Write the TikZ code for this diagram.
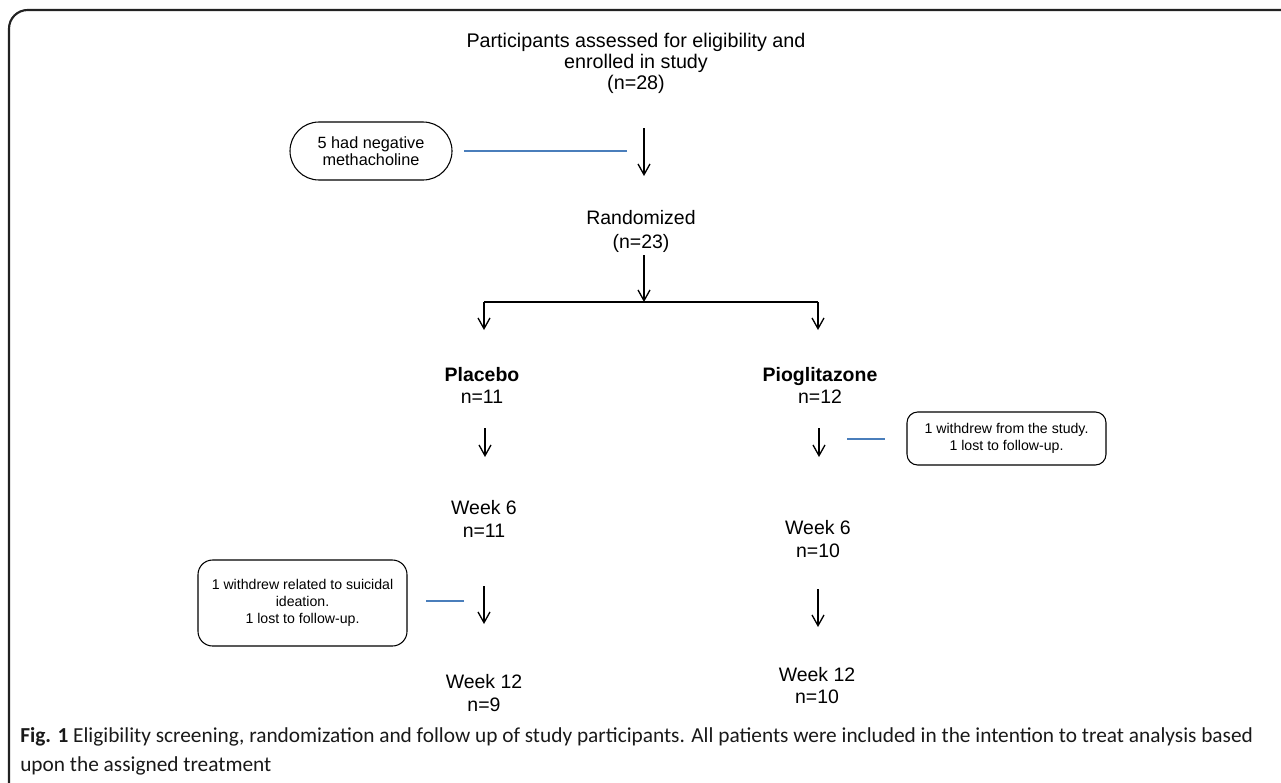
\documentclass[tikz,border=0pt]{standalone}
\usepackage{fontspec}
\setmainfont{Liberation Sans}
\newfontfamily\capfont{Carlito}
\usetikzlibrary{arrows.meta}
\definecolor{linkblue}{HTML}{4A7EBB}
\definecolor{framegray}{HTML}{222222}
\begin{document}
\begin{tikzpicture}[x=0.75pt,y=-0.75pt,
  txt/.style={align=center, inner sep=0pt, font=\fontsize{14.6}{16.9}\selectfont},
  boxtxt/.style={align=center, font=\fontsize{10.6}{12.8}\selectfont, draw=black, line width=0.8pt},
  arr/.style={-{Straight Barb[length=8pt,width=9pt]}, line width=1pt, black},
  link/.style={linkblue, line width=1.1pt},
  ln/.style={line width=1pt, black}]
\useasboundingbox (0,0) rectangle (1281,782);
% frame
\draw[framegray, line width=1.6pt, rounded corners=14pt] (9,800) -- (9,10) -- (1300,10);
% title
\node[txt, font=\fontsize{14.8}{15.75}\selectfont] (t) at (636,63) {Participants assessed for eligibility and\\enrolled in study\\(n=28)};
% negative methacholine
\node[boxtxt, font=\fontsize{12.2}{12.9}\selectfont, rounded corners=29*0.75pt, minimum width=162*0.75pt, minimum height=58*0.75pt, inner sep=0pt] (b1) at (371,151) {5 had negative\\methacholine};
\coordinate (a1s) at (644,128);
\coordinate (a1e) at (644,176);
\coordinate (l1e) at (627,151);
\draw[arr] (a1s) -- (a1e);
\draw[link, shorten >=11*0.75pt] (l1e) -- (l1e -| b1.east);
% randomized
\node[txt, font=\fontsize{14.6}{18}\selectfont] (r) at (641,231) {Randomized\\(n=23)};
\coordinate (a2s) at (644,255);
\coordinate (a2e) at (644,302);
\draw[arr] (a2s) -- (a2e);
\coordinate (bl) at (484,302);
\coordinate (br) at (818,302);
\coordinate (ble) at (484,330);
\coordinate (bre) at (818,330);
\draw[ln] (bl) -- (br);
\draw[arr] (bl) -- (ble);
\draw[arr] (br) -- (bre);
% arms
\node[txt] (p) at (482,385.5) {\textbf{Placebo}\\n=11};
\node[txt] (g) at (820,385.5) {\textbf{Pioglitazone}\\n=12};
\coordinate (a3s) at (485,428);
\coordinate (a3e) at (485,457);
\coordinate (a4s) at (819,428);
\coordinate (a4e) at (819,457);
\draw[arr] (a3s) -- (a3e);
\draw[arr] (a4s) -- (a4e);
% right withdrawal box
\node[boxtxt, rounded corners=8pt, minimum width=199*0.75pt, minimum height=53*0.75pt, inner sep=0pt] (b2) at (1006.5,438.5) {1 withdrew from the study.\\1 lost to follow-up.};
\coordinate (l2s) at (847,439);
\draw[link, shorten >=21*0.75pt] (l2s) -- (l2s -| b2.west);
% week 6
\node[txt] (w6l) at (484,519) {Week 6\\n=11};
\node[txt] (w6r) at (818,539) {Week 6\\n=10};
% left withdrawal box
\node[boxtxt, rounded corners=11pt, minimum width=209*0.75pt, minimum height=86*0.75pt, inner sep=0pt] (b3) at (302.5,603) {1 withdrew related to suicidal\\ideation.\\1 lost to follow-up.};
\coordinate (l3e) at (464,601);
\draw[link, shorten >=18*0.75pt] (l3e) -- (l3e -| b3.east);
\coordinate (a5s) at (484,586);
\coordinate (a5e) at (484,624);
\coordinate (a6s) at (818,589);
\coordinate (a6e) at (818,627);
\draw[arr] (a5s) -- (a5e);
\draw[arr] (a6s) -- (a6e);
% week 12
\node[txt] (w12l) at (484,693) {Week 12\\n=9};
\node[txt] (w12r) at (817,685.5) {Week 12\\n=10};
% caption
\node[anchor=north west, align=left, inner sep=0pt, text=black!90, font=\capfont\fontsize{16}{21.6}\selectfont] (cap) at (20,727) {\textbf{Fig. 1} Eligibility screening, randomization and follow up of study participants. All patients were included in the intention to treat analysis based\\upon the assigned treatment};
\end{tikzpicture}
\end{document}
